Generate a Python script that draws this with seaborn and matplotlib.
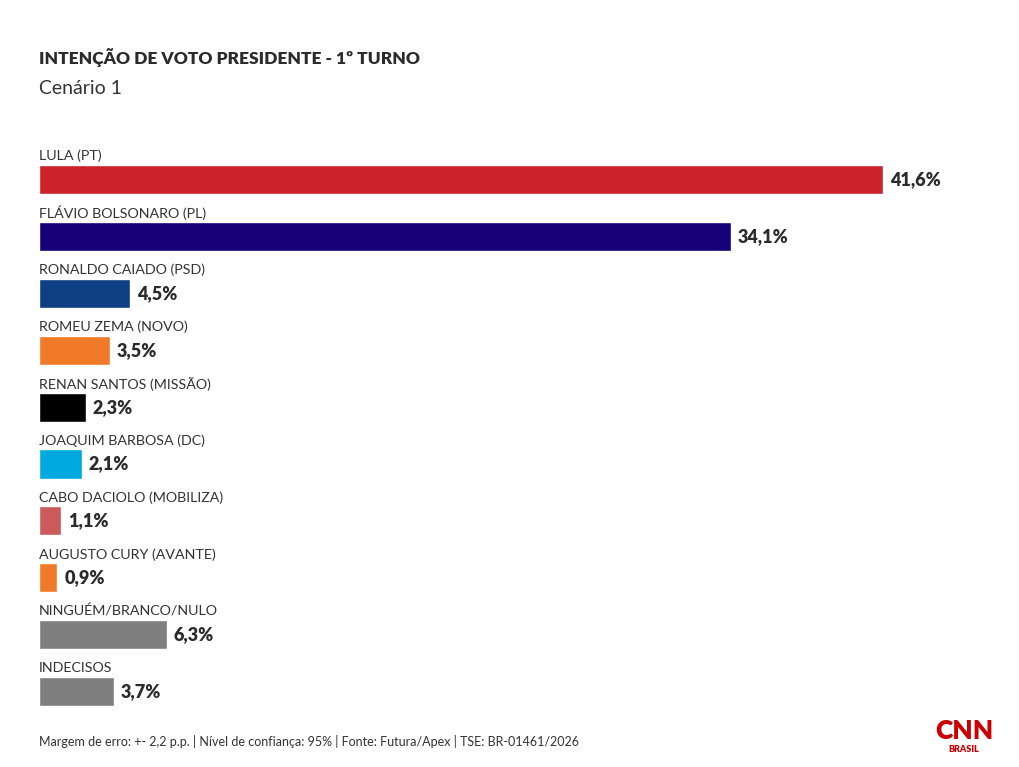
import matplotlib
matplotlib.use("Agg")
import matplotlib.pyplot as plt
import pandas as pd
import seaborn as sns

candidates = [
    "LULA (PT)",
    "FLÁVIO BOLSONARO (PL)",
    "RONALDO CAIADO (PSD)",
    "ROMEU ZEMA (NOVO)",
    "RENAN SANTOS (MISSÃO)",
    "JOAQUIM BARBOSA (DC)",
    "CABO DACIOLO (MOBILIZA)",
    "AUGUSTO CURY (AVANTE)",
    "NINGUÉM/BRANCO/NULO",
    "INDECISOS",
]
values = [41.6, 34.1, 4.5, 3.5, 2.3, 2.1, 1.1, 0.9, 6.3, 3.7]
colors = ["#CC2229", "#150077", "#0E3F82", "#F07A28", "#000000",
          "#00A9E0", "#CC5A5C", "#F07A28", "#7F7F7F", "#7F7F7F"]

title = "INTENÇÃO DE VOTO PRESIDENTE - 1º TURNO"
subtitle = "Cenário 1"
footer = "Margem de erro: +- 2,2 p.p. | Nível de confiança: 95% | Fonte: Futura/Apex | TSE: BR-01461/2026"

sns.set_theme(style="white")
plt.rcParams["font.family"] = ["Lato", "DejaVu Sans"]

df = pd.DataFrame({"candidato": candidates, "valor": values})

W, H = 1020, 767
fig = plt.figure(figsize=(W / 100, H / 100), dpi=100)
fig.patch.set_facecolor("white")

px_per_pct = 844 / 41.6
row = 56.9
xmax = 45
top_px = 179.5 - 0.5 * row
bottom_px = 179.5 + 9.5 * row
ax = fig.add_axes([39 / W, 1 - bottom_px / H, xmax * px_per_pct / W, (bottom_px - top_px) / H])

sns.barplot(data=df, x="valor", y="candidato", hue="candidato", palette=colors,
            legend=False, width=0.51, saturation=1, ax=ax, orient="h")

ax.set_xlim(0, xmax)
ax.set_ylim(len(candidates) - 0.5, -0.5)
ax.axis("off")

for i, (name, v) in enumerate(zip(candidates, values)):
    ax.text(0, i - 0.41, name, ha="left", va="center", fontsize=10.3, color="#333333")
    ax.annotate(f"{v:.1f}%".replace(".", ","), xy=(v, i), xytext=(5, 0),
                textcoords="offset points", ha="left", va="center",
                fontsize=13, fontweight="heavy", color="#2B2B2B")

fig.text(39 / W, 1 - 58 / H, title, ha="left", va="center", fontsize=12.5,
         fontweight="heavy", color="#2B2B2B")
fig.text(39 / W, 1 - 88 / H, subtitle, ha="left", va="center", fontsize=14,
         color="#333333")
fig.text(39 / W, 1 - 741 / H, footer, ha="left", va="center", fontsize=9,
         color="#333333")

# logo
fig.text(964 / W, 1 - 731 / H, "CNN", ha="center", va="center", fontsize=19,
         fontweight="heavy", color="#CC0000")
fig.text(964 / W, 1 - 749 / H, "BRASIL", ha="center", va="center", fontsize=6.5,
         fontweight="heavy", color="#CC0000")

fig.savefig("out.png", dpi=100, facecolor="white")
